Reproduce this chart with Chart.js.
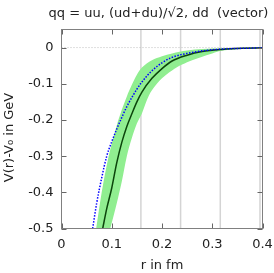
<!DOCTYPE html>
<html>
<head>
<meta charset="utf-8">
<script src="https://cdn.jsdelivr.net/npm/chart.js@4"></script>
<style>
  html, body { margin: 0; padding: 0; background: #fff; }
  #wrap { width: 274px; height: 273px; }
</style>
</head>
<body>
<div id="wrap"><canvas id="chart-potential"></canvas></div>
<script>
const titulo = 'qq = uu, (ud+du)/\u221a2, dd  (vector)'
const tituloY = 'V(r)-V\u2080 in GeV'
const tituloX = 'r in fm'

const xTicks = [0, 0.1, 0.2, 0.3, 0.4]
const yTicks = [0, -0.1, -0.2, -0.3, -0.4, -0.5]
// lineas verticales grises (multiplos del espaciado de la red)
const latticeR = [0.158, 0.237, 0.316, 0.395]

// curva central
const rCentral = [0.082, 0.09, 0.10, 0.11, 0.12, 0.13, 0.14, 0.15, 0.16, 0.18, 0.20, 0.22, 0.25, 0.28, 0.32, 0.36, 0.40]
const vCentral = [-0.50, -0.445, -0.388, -0.318, -0.262, -0.218, -0.183, -0.150, -0.123, -0.085, -0.058, -0.037, -0.021, -0.011, -0.005, -0.002, -0.001]

// curva punteada azul
const rBlue = [0.062, 0.07, 0.08, 0.09, 0.10, 0.11, 0.12, 0.13, 0.14, 0.15, 0.16, 0.18, 0.20, 0.22, 0.25, 0.28, 0.32, 0.36, 0.40]
const vBlue = [-0.50, -0.43, -0.36, -0.30, -0.26, -0.225, -0.193, -0.163, -0.138, -0.115, -0.095, -0.064, -0.042, -0.027, -0.016, -0.009, -0.004, -0.002, -0.001]

// banda de error: borde superior e inferior
const rUpper = [0.069, 0.08, 0.09, 0.10, 0.11, 0.12, 0.13, 0.14, 0.15, 0.16, 0.18, 0.20, 0.22, 0.25, 0.28, 0.32, 0.36, 0.40]
const vUpper = [-0.50, -0.40, -0.325, -0.265, -0.215, -0.172, -0.135, -0.103, -0.075, -0.055, -0.035, -0.024, -0.016, -0.008, -0.004, -0.002, -0.001, 0]
const rLower = [0.097, 0.11, 0.12, 0.13, 0.14, 0.15, 0.16, 0.17, 0.18, 0.20, 0.22, 0.24, 0.26, 0.28, 0.30, 0.32, 0.36, 0.40]
const vLower = [-0.50, -0.43, -0.37, -0.30, -0.25, -0.21, -0.182, -0.145, -0.118, -0.085, -0.063, -0.047, -0.035, -0.025, -0.016, -0.008, -0.003, -0.001]

const pts = (xs, ys) => xs.map((x, i) => ({ x: x, y: ys[i] }))

// contorno cerrado de la banda: borde superior ida, inferior vuelta
const bandPts = pts(rUpper, vUpper).concat(pts(rLower, vLower).reverse())

const marco = {
  id: 'marco',
  beforeDatasetsDraw(chart) {
    const { ctx, chartArea: a, scales: { x, y } } = chart
    ctx.save()
    ctx.strokeStyle = '#d4d4d4'
    ctx.lineWidth = 1.5
    latticeR.forEach(r => {
      const px = x.getPixelForValue(r)
      ctx.beginPath(); ctx.moveTo(px, a.top); ctx.lineTo(px, a.bottom); ctx.stroke()
    })
    ctx.strokeStyle = '#bdbdbd'
    ctx.lineWidth = 1
    ctx.setLineDash([1, 2])
    const y0 = y.getPixelForValue(0)
    ctx.beginPath(); ctx.moveTo(a.left, y0); ctx.lineTo(a.right, y0); ctx.stroke()
    ctx.restore()
  },
  afterDatasetsDraw(chart) {
    const { ctx, chartArea: a, scales: { x, y } } = chart
    ctx.save()
    ctx.strokeStyle = '#666'
    ctx.lineWidth = 1
    xTicks.forEach(v => {
      const px = Math.round(x.getPixelForValue(v)) + 0.5
      ctx.beginPath()
      ctx.moveTo(px, a.bottom); ctx.lineTo(px, a.bottom - 5)
      ctx.moveTo(px, a.top); ctx.lineTo(px, a.top + 5)
      ctx.stroke()
    })
    yTicks.forEach(v => {
      const py = Math.round(y.getPixelForValue(v)) + 0.5
      ctx.beginPath()
      ctx.moveTo(a.left, py); ctx.lineTo(a.left + 5, py)
      ctx.moveTo(a.right, py); ctx.lineTo(a.right - 5, py)
      ctx.stroke()
    })
    ctx.strokeStyle = '#808080'
    ctx.strokeRect(a.left, a.top, a.right - a.left, a.bottom - a.top)
    ctx.restore()
  },
  afterDraw(chart) {
    const ctx = chart.ctx
    ctx.save()
    ctx.fillStyle = '#222'
    ctx.font = '13px "DejaVu Sans"'
    ctx.textAlign = 'center'
    ctx.textBaseline = 'middle'
    ctx.fillText(titulo, 158.5, 14)
    ctx.translate(10, 137.5)
    ctx.rotate(-Math.PI / 2)
    ctx.fillText(tituloY, 0, 0)
    ctx.restore()
  }
}

let chart
window.addEventListener('load', () => {
  Chart.defaults.font.family = '"DejaVu Sans"'
  Chart.defaults.font.size = 13
  Chart.defaults.color = '#222'

  chart = new Chart(document.getElementById('chart-potential'), {
    type: 'scatter',
    data: {
      datasets: [{
        data: bandPts,
        showLine: true,
        fill: 'shape',
        tension: 0.35,
        borderWidth: 0,
        borderColor: 'rgba(0,0,0,0)',
        backgroundColor: '#90ee90',
        pointRadius: 0,
        order: 3
      }, {
        data: pts(rCentral, vCentral),
        showLine: true,
        cubicInterpolationMode: 'monotone',
        borderColor: '#0b450b',
        borderWidth: 1.5,
        pointRadius: 0,
        order: 2
      }, {
        data: pts(rBlue, vBlue),
        showLine: true,
        cubicInterpolationMode: 'monotone',
        borderColor: '#0000ff',
        borderWidth: 1.5,
        borderDash: [1.5, 1.5],
        pointRadius: 0,
        order: 1
      }]
    },
    options: {
      responsive: true,
      maintainAspectRatio: false,
      animation: false,
      layout: { padding: { top: 29.5, right: 11.5, left: 0, bottom: 0 } },
      plugins: {
        legend: { display: false },
        tooltip: { enabled: false }
      },
      scales: {
        x: {
          type: 'linear',
          min: 0,
          max: 0.4,
          afterBuildTicks: s => { s.ticks = xTicks.map(v => ({ value: v })) },
          afterFit: s => {
            s.height = 44.5
            // sin margen extra por los rotulos de los extremos
            s.paddingLeft = 0
            s.paddingRight = 0
          },
          grid: { display: false, drawTicks: false },
          border: { display: false },
          ticks: {
            padding: 8,
            maxRotation: 0,
            callback: v => v === 0 ? '0' : v.toFixed(1)
          },
          title: { display: true, text: tituloX, padding: 0 }
        },
        y: {
          min: -0.5,
          max: 0.05,
          afterBuildTicks: s => { s.ticks = yTicks.map(v => ({ value: v })) },
          afterFit: s => {
            s.width = 61.5
            s.paddingTop = 0
            s.paddingBottom = 0
          },
          grid: { display: false, drawTicks: false },
          border: { display: false },
          ticks: {
            padding: 8,
            callback: v => v === 0 ? '0' : v.toFixed(1)
          }
        }
      }
    },
    plugins: [marco]
  })
})
</script>
</body>
</html>
